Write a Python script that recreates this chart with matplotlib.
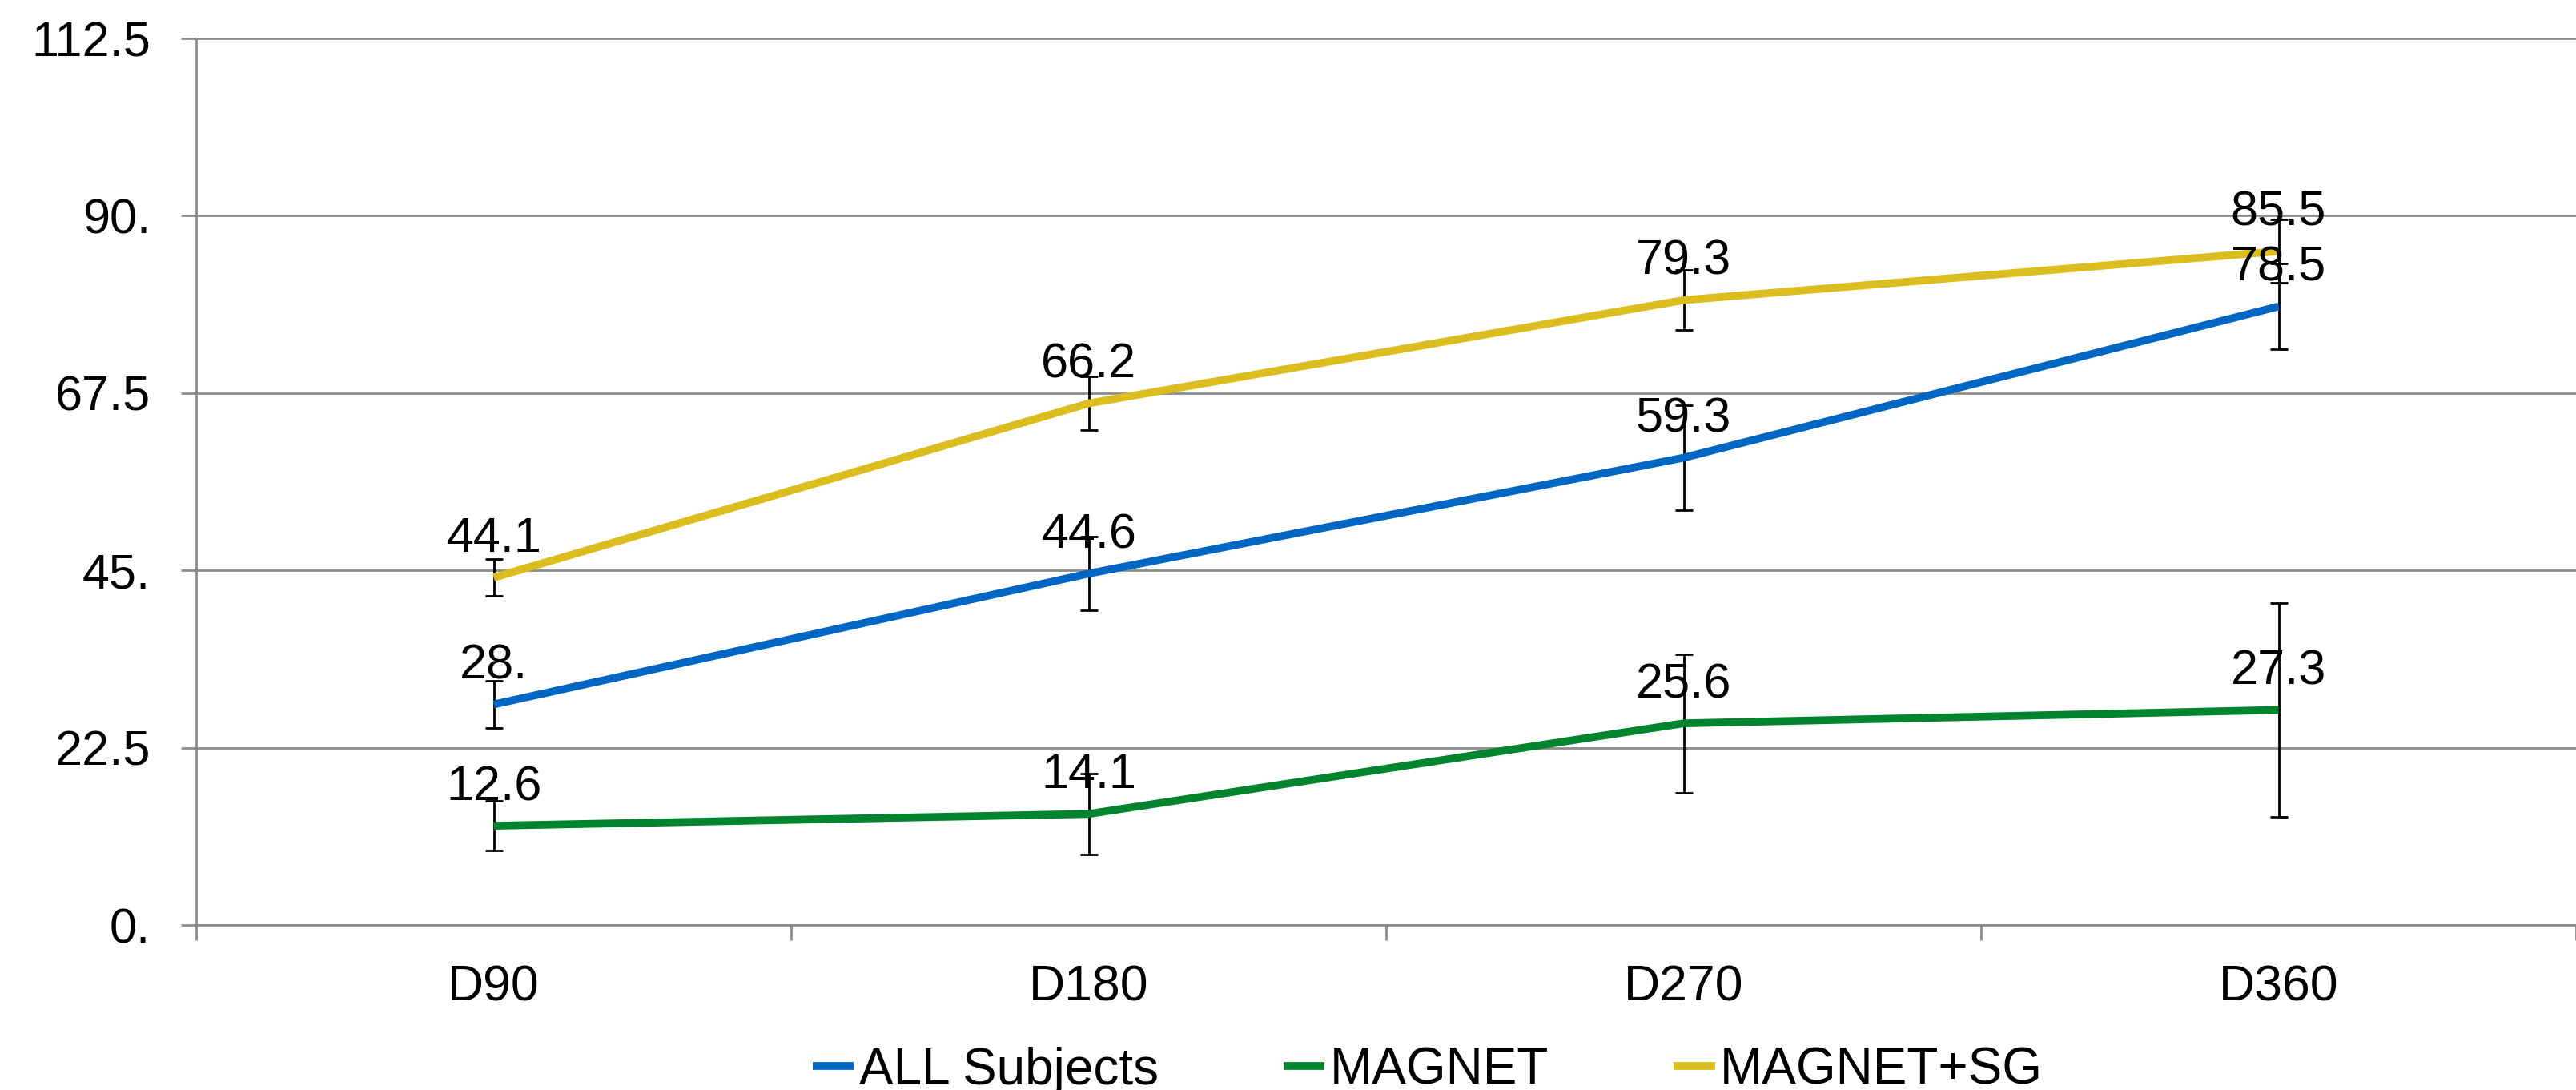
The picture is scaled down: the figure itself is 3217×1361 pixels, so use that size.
import numpy as np
import matplotlib
matplotlib.use("Agg")
from matplotlib import pyplot as plt

# values
days = ["D90", "D180", "D270", "D360"]
all_subjects = [28.0, 44.6, 59.3, 78.5]
all_err = [3.0, 4.7, 6.7, 5.4]
magnet = [12.6, 14.1, 25.6, 27.3]
magnet_err = [3.15, 5.1, 8.8, 13.6]
magnet_sg = [44.1, 66.2, 79.3, 85.5]
magnet_sg_err = [2.3, 3.4, 3.8, 4.0]

all_labels = ["28.", "44.6", "59.3", "78.5"]
magnet_labels = ["12.6", "14.1", "25.6", "27.3"]
magnet_sg_labels = ["44.1", "66.2", "79.3", "85.5"]

y_ticks = [0, 22.5, 45, 67.5, 90, 112.5]
y_tick_labels = ["0.", "22.5", "45.", "67.5", "90.", "112.5"]

plt.rcParams['font.family'] = ['Liberation Sans', 'DejaVu Sans']

fig = plt.figure(figsize=(32.17, 13.61), dpi=100)
ax = fig.add_axes([0.0762, 0.1513, 1 - 0.0762, 0.9647 - 0.1513])

x = np.arange(len(days))
grid_col = "#8c8c8c"

series = [
    ("ALL Subjects", all_subjects, all_err, all_labels, "#0066c4"),
    ("MAGNET", magnet, magnet_err, magnet_labels, "#00852e"),
    ("MAGNET+SG", magnet_sg, magnet_sg_err, magnet_sg_labels, "#dbbd1f"),
]

for name, vals, errs, labs, col in series:
    ax.errorbar(x, vals, yerr=errs, fmt="none", ecolor="black",
                elinewidth=2, capsize=8, capthick=2, zorder=2)
    ax.plot(x, vals, color=col, lw=7, label=name, zorder=3,
            solid_capstyle="butt")
    for xi, v, t in zip(x, vals, labs):
        ax.annotate(t, (xi, v), xytext=(0, 23), textcoords="offset points",
                    ha="center", va="baseline", fontsize=44, zorder=4)

ax.set_ylim(0, 112.5)
ax.set_xlim(-0.5, -0.5 + (3217 - 245) / 753)
ax.set_yticks(y_ticks)
ax.set_yticklabels(y_tick_labels)
ax.yaxis.grid(True, color=grid_col, lw=2)
ax.set_axisbelow(True)

ax.set_xticks(x)
ax.set_xticklabels(days)
ax.set_xticks(np.arange(-0.5, 4.0, 1.0), minor=True)
ax.tick_params(axis="x", which="major", length=0, pad=35, labelsize=45)
ax.tick_params(axis="x", which="minor", length=14, width=2, color=grid_col)
ax.tick_params(axis="y", length=14, width=2, color=grid_col, pad=27,
               labelsize=44)

for s in ["top", "right"]:
    ax.spines[s].set_visible(False)
ax.spines["left"].set_color(grid_col)
ax.spines["left"].set_linewidth(2)
ax.spines["bottom"].set_color(grid_col)
ax.spines["bottom"].set_linewidth(2)

ax.legend(loc="center", bbox_to_anchor=(1783 / 3217, 0.018),
          bbox_transform=fig.transFigure, ncol=3, frameon=False,
          fontsize=46, handlelength=0.8, handletextpad=0.1,
          columnspacing=2.45)

fig.savefig("out.png", dpi=100)
